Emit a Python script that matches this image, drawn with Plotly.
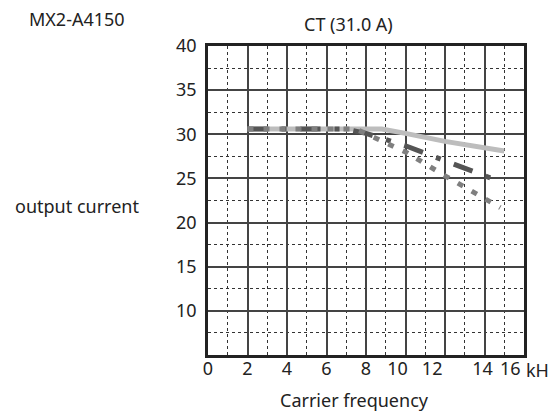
import plotly.graph_objects as go

# carrier frequency (kHz) and output current (A)
freq_solid = [2, 8.8, 10, 12, 15]
curr_solid = [30.6, 30.6, 30.1, 29.2, 28.1]

freq_dash = [2, 7, 8, 10, 12, 14.6]
curr_dash = [30.6, 30.6, 30.1, 28.7, 27.0, 24.8]

freq_dot = [2, 7.5, 10, 12, 14.8]
curr_dot = [30.6, 30.6, 28.0, 25.3, 21.7]

# x tick labels as printed (some sit slightly off the grid in the original)
x_tick_vals = [0, 2, 4, 6, 8, 9.6, 11.35, 13.9, 15.3]
x_tick_text = ["0", "2", "4", "6", "8", "10", "12", "14", "16"]
y_tick_vals = [10, 15, 20, 25, 30, 35, 40]

font = "Noto Sans"

fig = go.Figure()
fig.add_trace(go.Scatter(x=freq_solid, y=curr_solid, mode="lines",
                         line=dict(color="#bdbdbd", width=5)))
fig.add_trace(go.Scatter(x=freq_dash, y=curr_dash, mode="lines",
                         line=dict(color="#555555", width=5, dash="20px,14px,5px,14px")))
fig.add_trace(go.Scatter(x=freq_dot, y=curr_dot, mode="lines",
                         line=dict(color="#7f7f7f", width=5, dash="6px,10px")))

fig.update_layout(
    width=551, height=417,
    margin=dict(l=208, r=27, t=46, b=62),
    paper_bgcolor="white", plot_bgcolor="white",
    showlegend=False,
    font=dict(family=font, color="#222222"),
    # labelled x axis, no grid
    xaxis=dict(range=[0, 16], tickvals=x_tick_vals, ticktext=x_tick_text,
               showgrid=False, zeroline=False, ticks="",
               showline=True, linecolor="#222222", linewidth=2.5, mirror=True,
               tickfont=dict(size=18), ticklabelstandoff=-4),
    # grid-only x axis
    xaxis2=dict(range=[0, 16], overlaying="x", dtick=2, showticklabels=False,
                showgrid=True, gridcolor="#444444", gridwidth=1.5, zeroline=False,
                minor=dict(dtick=1, showgrid=True, gridcolor="#333333",
                           griddash="dot", gridwidth=1)),
    yaxis=dict(range=[5, 40], tickvals=y_tick_vals, ticks="",
               showgrid=True, gridcolor="#444444", gridwidth=1.5, zeroline=False,
               minor=dict(dtick=2.5, showgrid=True, gridcolor="#333333",
                          griddash="dot", gridwidth=1),
               showline=True, linecolor="#222222", linewidth=2.5, mirror=True,
               tickfont=dict(size=18), ticklabelstandoff=5),
)

# invisible trace so the grid axis is drawn
fig.add_trace(go.Scatter(x=[0], y=[5], xaxis="x2", mode="markers",
                         marker=dict(opacity=0), hoverinfo="skip"))

ann = dict(xref="paper", yref="paper", showarrow=False, font=dict(size=18))
fig.add_annotation(text="MX2-A4150", x=-0.573, y=1.087, xanchor="left", yanchor="middle", **ann)
fig.add_annotation(text="CT (31.0 A)", x=0.446, y=1.071, xanchor="center", yanchor="middle", **ann)
fig.add_annotation(text="output current", x=-0.617, y=0.482, xanchor="left", yanchor="middle", **ann)
fig.add_annotation(text="Carrier frequency", x=0.465, y=-0.146, xanchor="center", yanchor="middle", **ann)
fig.add_annotation(text="kH", x=1.0, y=-0.05, xanchor="left", yanchor="middle", **ann)

# drop the page's default body margin so the figure sits at the window corner
fig.write_html("out.html", config={"displayModeBar": False},
               post_script="document.body.style.margin='0';")
